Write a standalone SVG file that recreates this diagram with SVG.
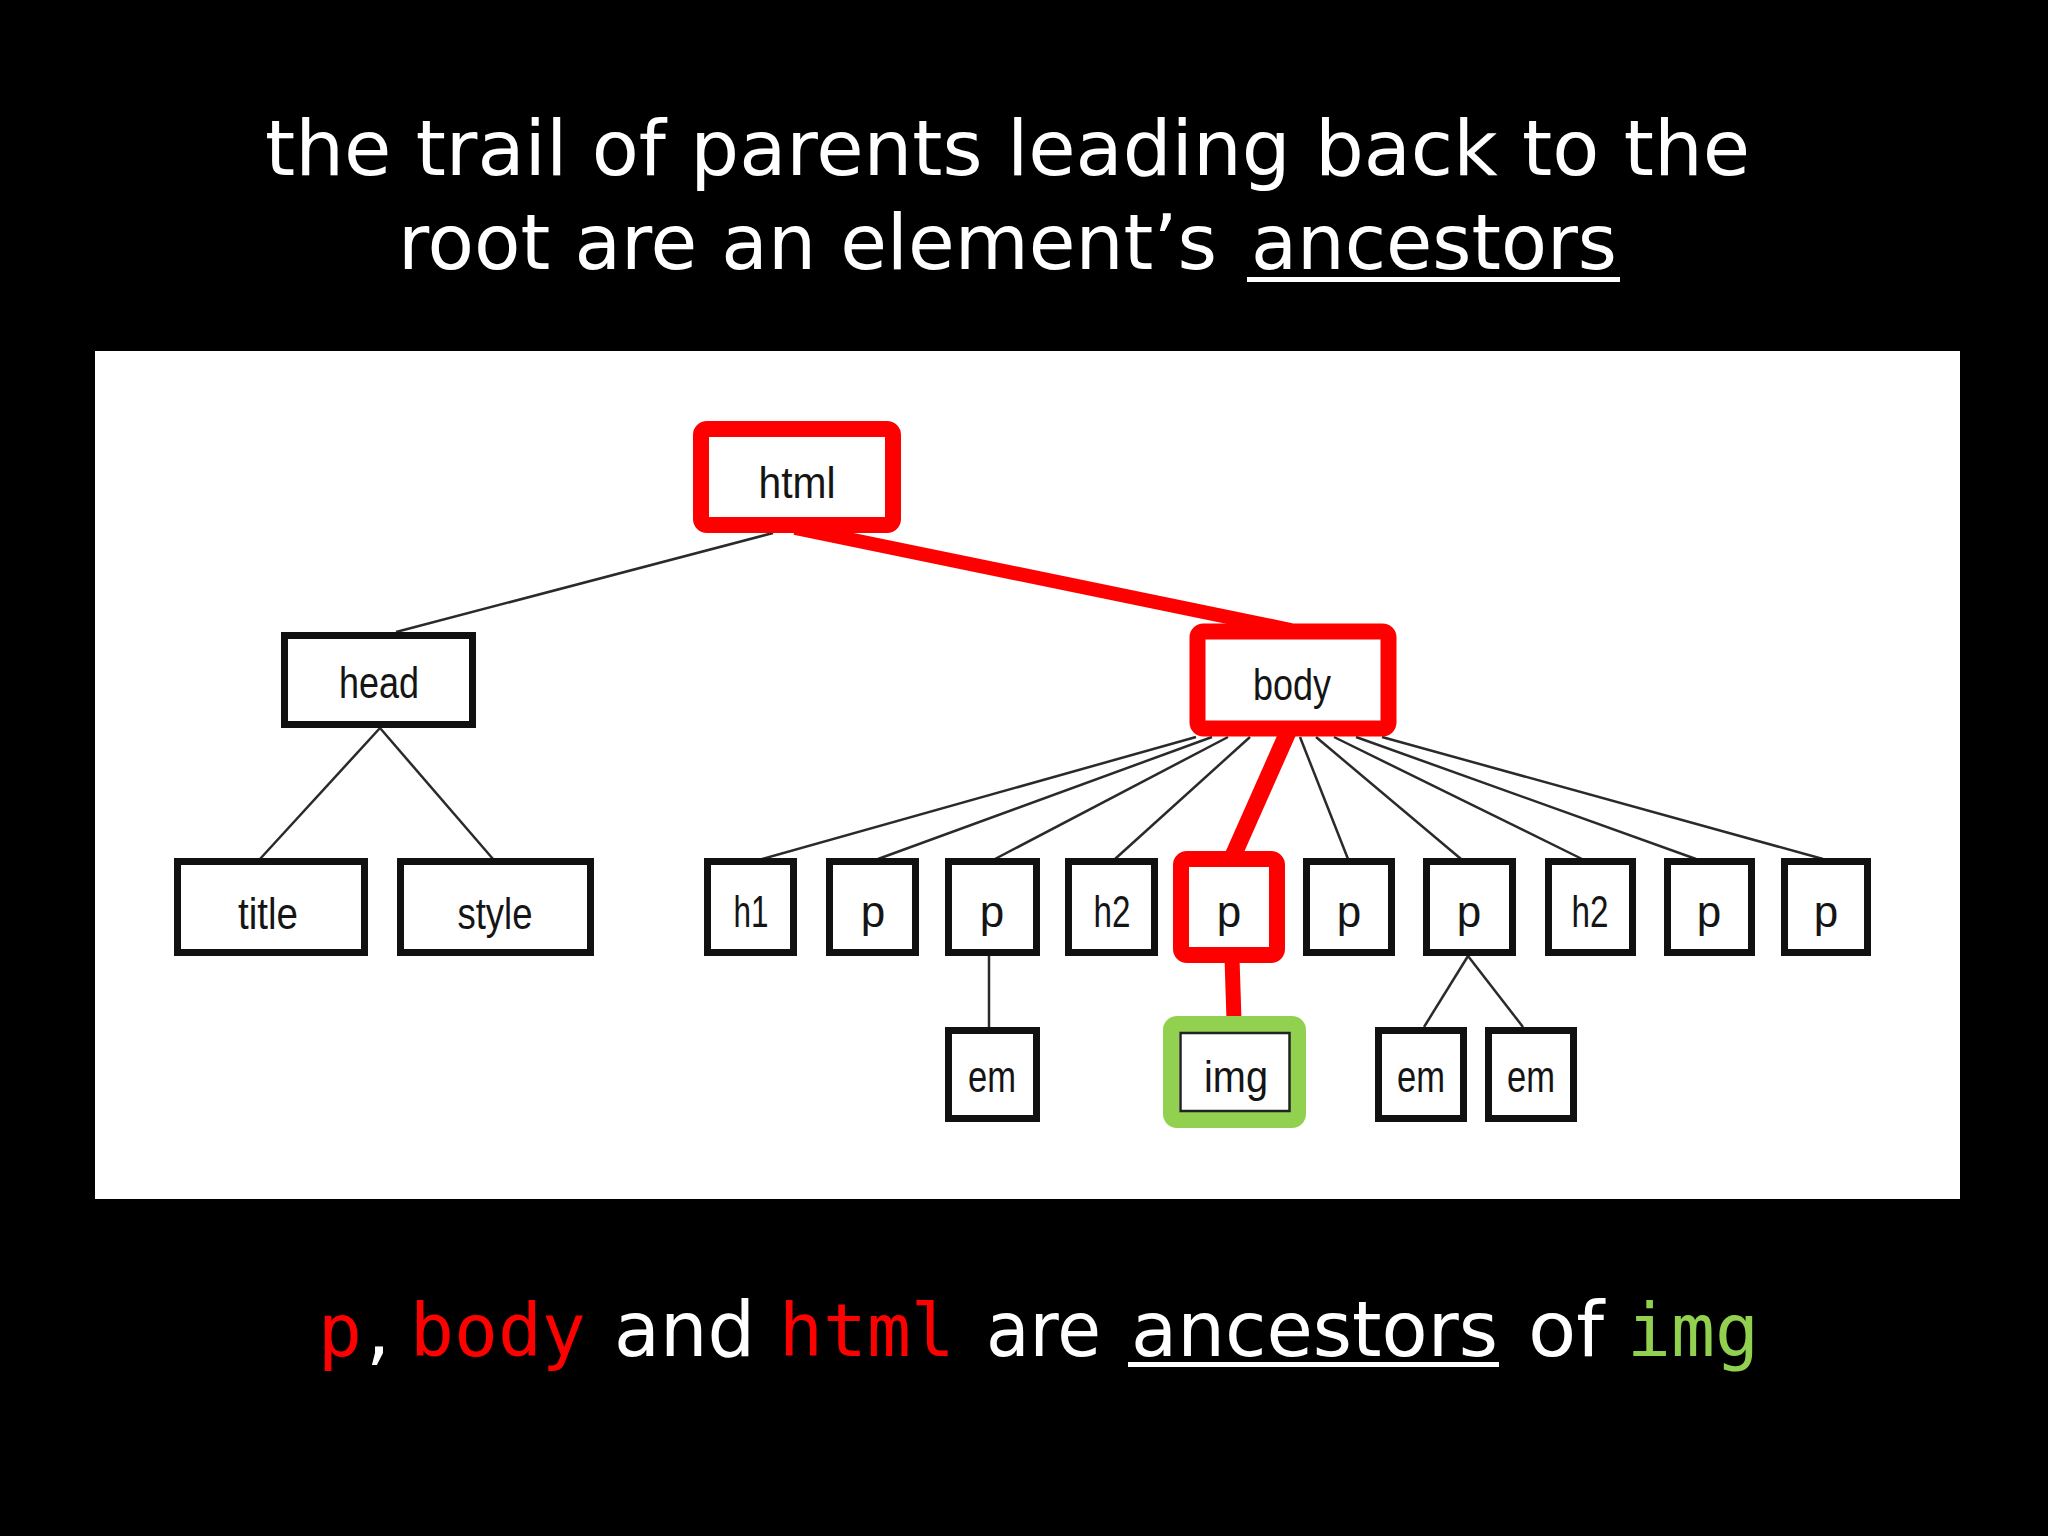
<svg xmlns="http://www.w3.org/2000/svg" width="2048" height="1536" viewBox="0 0 2048 1536">
  <style>
    .ttl { font-family: "DejaVu Sans", "Open Sans", sans-serif; font-size: 77px; fill: #ffffff; }
    .mono { font-family: "DejaVu Sans Mono", "Liberation Mono", monospace; font-size: 73px; }
    .red { fill: #ff0000; }
    .grn { fill: #92d050; }
    .box { fill: #ffffff; stroke: #111111; stroke-width: 7; }
    .hl-red { fill: #ffffff; stroke: #ff0000; stroke-width: 16; }
    .hl-grn { fill: #ffffff; stroke: #92d050; stroke-width: 16; }
    .lbl { font-family: "Liberation Sans", Arial, sans-serif; font-size: 44px; fill: #151515; text-anchor: middle; }
    .edge { stroke: #2a2a2a; stroke-width: 2.5; fill: none; }
    .edge-red { stroke: #ff0000; fill: none; stroke-linecap: butt; }
  </style>

  <rect x="0" y="0" width="2048" height="1536" fill="#000000"/>

  <!-- title -->
  <g id="title">
    <text class="ttl" x="265" y="175" textLength="1485" lengthAdjust="spacingAndGlyphs">the trail of parents leading back to the</text>
    <text class="ttl" x="398" y="269" textLength="819" lengthAdjust="spacingAndGlyphs">root are an element’s</text>
    <text class="ttl" x="1251" y="269" textLength="366" lengthAdjust="spacingAndGlyphs">ancestors</text>
    <rect x="1247" y="277" width="373" height="5" fill="#ffffff"/>
  </g>

  <!-- white panel -->
  <rect id="panel" x="95" y="351" width="1865" height="848" fill="#ffffff"/>

  <!-- connectors -->
  <g id="connectors">
    <line class="edge" x1="773" y1="533" x2="396" y2="632"/>
    <line class="edge" x1="380" y1="728" x2="260" y2="859"/>
    <line class="edge" x1="380" y1="728" x2="493" y2="859"/>
    <line class="edge" x1="1196" y1="737" x2="762" y2="859"/>
    <line class="edge" x1="1212" y1="737" x2="878" y2="859"/>
    <line class="edge" x1="1228" y1="737" x2="995" y2="859"/>
    <line class="edge" x1="1250" y1="737" x2="1115" y2="859"/>
    <line class="edge" x1="1300" y1="737" x2="1348" y2="859"/>
    <line class="edge" x1="1316" y1="737" x2="1461" y2="859"/>
    <line class="edge" x1="1334" y1="737" x2="1582" y2="859"/>
    <line class="edge" x1="1356" y1="737" x2="1696" y2="859"/>
    <line class="edge" x1="1382" y1="737" x2="1823" y2="859"/>
    <line class="edge" x1="989" y1="956" x2="989" y2="1027" stroke="#666666"/>
    <line class="edge" x1="1468" y1="956" x2="1424" y2="1027"/>
    <line class="edge" x1="1468" y1="956" x2="1523" y2="1027"/>
    <line class="edge-red" x1="795" y1="528" x2="1291" y2="630" stroke-width="14"/>
    <line class="edge-red" x1="1288" y1="732" x2="1233" y2="856" stroke-width="17"/>
    <line class="edge-red" x1="1232" y1="958" x2="1234" y2="1020" stroke-width="15"/>
  </g>

  <!-- nodes -->
  <g id="node-html">
    <rect class="hl-red" x="701" y="429" width="192" height="96" rx="6"/>
    <text class="lbl" x="797" y="498" textLength="77" lengthAdjust="spacingAndGlyphs">html</text>
  </g>
  <g id="node-head">
    <rect class="box" x="284.5" y="635.5" width="188" height="89"/>
    <text class="lbl" x="379" y="698" textLength="80" lengthAdjust="spacingAndGlyphs">head</text>
  </g>
  <g id="node-body">
    <rect class="hl-red" x="1197.5" y="631.5" width="191" height="97" rx="6"/>
    <text class="lbl" x="1292" y="700" textLength="78" lengthAdjust="spacingAndGlyphs">body</text>
  </g>
  <g id="node-title">
    <rect class="box" x="177.5" y="861.5" width="187" height="91"/>
    <text class="lbl" x="268" y="929" textLength="60" lengthAdjust="spacingAndGlyphs">title</text>
  </g>
  <g id="node-style">
    <rect class="box" x="400.5" y="861.5" width="190" height="91"/>
    <text class="lbl" x="495" y="929" textLength="75" lengthAdjust="spacingAndGlyphs">style</text>
  </g>
  <g id="node-h1">
    <rect class="box" x="707.5" y="861.5" width="86" height="91"/>
    <text class="lbl" x="751" y="927" textLength="35" lengthAdjust="spacingAndGlyphs">h1</text>
  </g>
  <g id="node-p1">
    <rect class="box" x="829.5" y="861.5" width="86" height="91"/>
    <text class="lbl" x="873" y="927">p</text>
  </g>
  <g id="node-p2">
    <rect class="box" x="948.5" y="861.5" width="88" height="91"/>
    <text class="lbl" x="992" y="927">p</text>
  </g>
  <g id="node-h2a">
    <rect class="box" x="1068.5" y="861.5" width="86" height="91"/>
    <text class="lbl" x="1112" y="927" textLength="37" lengthAdjust="spacingAndGlyphs">h2</text>
  </g>
  <g id="node-p3">
    <rect class="hl-red" x="1181" y="859" width="96" height="96" rx="6"/>
    <text class="lbl" x="1229" y="927">p</text>
  </g>
  <g id="node-p4">
    <rect class="box" x="1306.5" y="861.5" width="85" height="91"/>
    <text class="lbl" x="1349" y="927">p</text>
  </g>
  <g id="node-p5">
    <rect class="box" x="1426.5" y="861.5" width="86" height="91"/>
    <text class="lbl" x="1469" y="927">p</text>
  </g>
  <g id="node-h2b">
    <rect class="box" x="1548.5" y="861.5" width="84" height="91"/>
    <text class="lbl" x="1590" y="927" textLength="37" lengthAdjust="spacingAndGlyphs">h2</text>
  </g>
  <g id="node-p6">
    <rect class="box" x="1667.5" y="861.5" width="84" height="91"/>
    <text class="lbl" x="1709" y="927">p</text>
  </g>
  <g id="node-p7">
    <rect class="box" x="1784.5" y="861.5" width="83" height="91"/>
    <text class="lbl" x="1826" y="927">p</text>
  </g>
  <g id="node-em1">
    <rect class="box" x="948.5" y="1030.5" width="88" height="88"/>
    <text class="lbl" x="992" y="1092" textLength="48" lengthAdjust="spacingAndGlyphs">em</text>
  </g>
  <g id="node-img">
    <rect class="hl-grn" x="1171" y="1024" width="127" height="96" rx="6"/>
    <rect x="1180.5" y="1033" width="109" height="78" fill="none" stroke="#222222" stroke-width="2.5"/>
    <text class="lbl" x="1236" y="1092" textLength="64" lengthAdjust="spacingAndGlyphs">img</text>
  </g>
  <g id="node-em2">
    <rect class="box" x="1378.5" y="1030.5" width="85" height="88"/>
    <text class="lbl" x="1421" y="1092" textLength="48" lengthAdjust="spacingAndGlyphs">em</text>
  </g>
  <g id="node-em3">
    <rect class="box" x="1488.5" y="1030.5" width="85" height="88"/>
    <text class="lbl" x="1531" y="1092" textLength="48" lengthAdjust="spacingAndGlyphs">em</text>
  </g>

  <!-- caption -->
  <g id="caption">
    <text class="mono red" x="318" y="1356">p</text>
    <text class="ttl" x="366" y="1356">,</text>
    <text class="mono red" x="410" y="1356">body</text>
    <text class="ttl" x="614" y="1356" textLength="141" lengthAdjust="spacingAndGlyphs">and</text>
    <text class="mono red" x="779" y="1356">html</text>
    <text class="ttl" x="986" y="1356" textLength="115" lengthAdjust="spacingAndGlyphs">are</text>
    <text class="ttl" x="1131" y="1356" textLength="367" lengthAdjust="spacingAndGlyphs">ancestors</text>
    <rect x="1128" y="1362" width="371" height="5" fill="#ffffff"/>
    <text class="ttl" x="1528" y="1356" textLength="76" lengthAdjust="spacingAndGlyphs">of</text>
    <text class="mono grn" x="1627" y="1356">img</text>
  </g>
</svg>
